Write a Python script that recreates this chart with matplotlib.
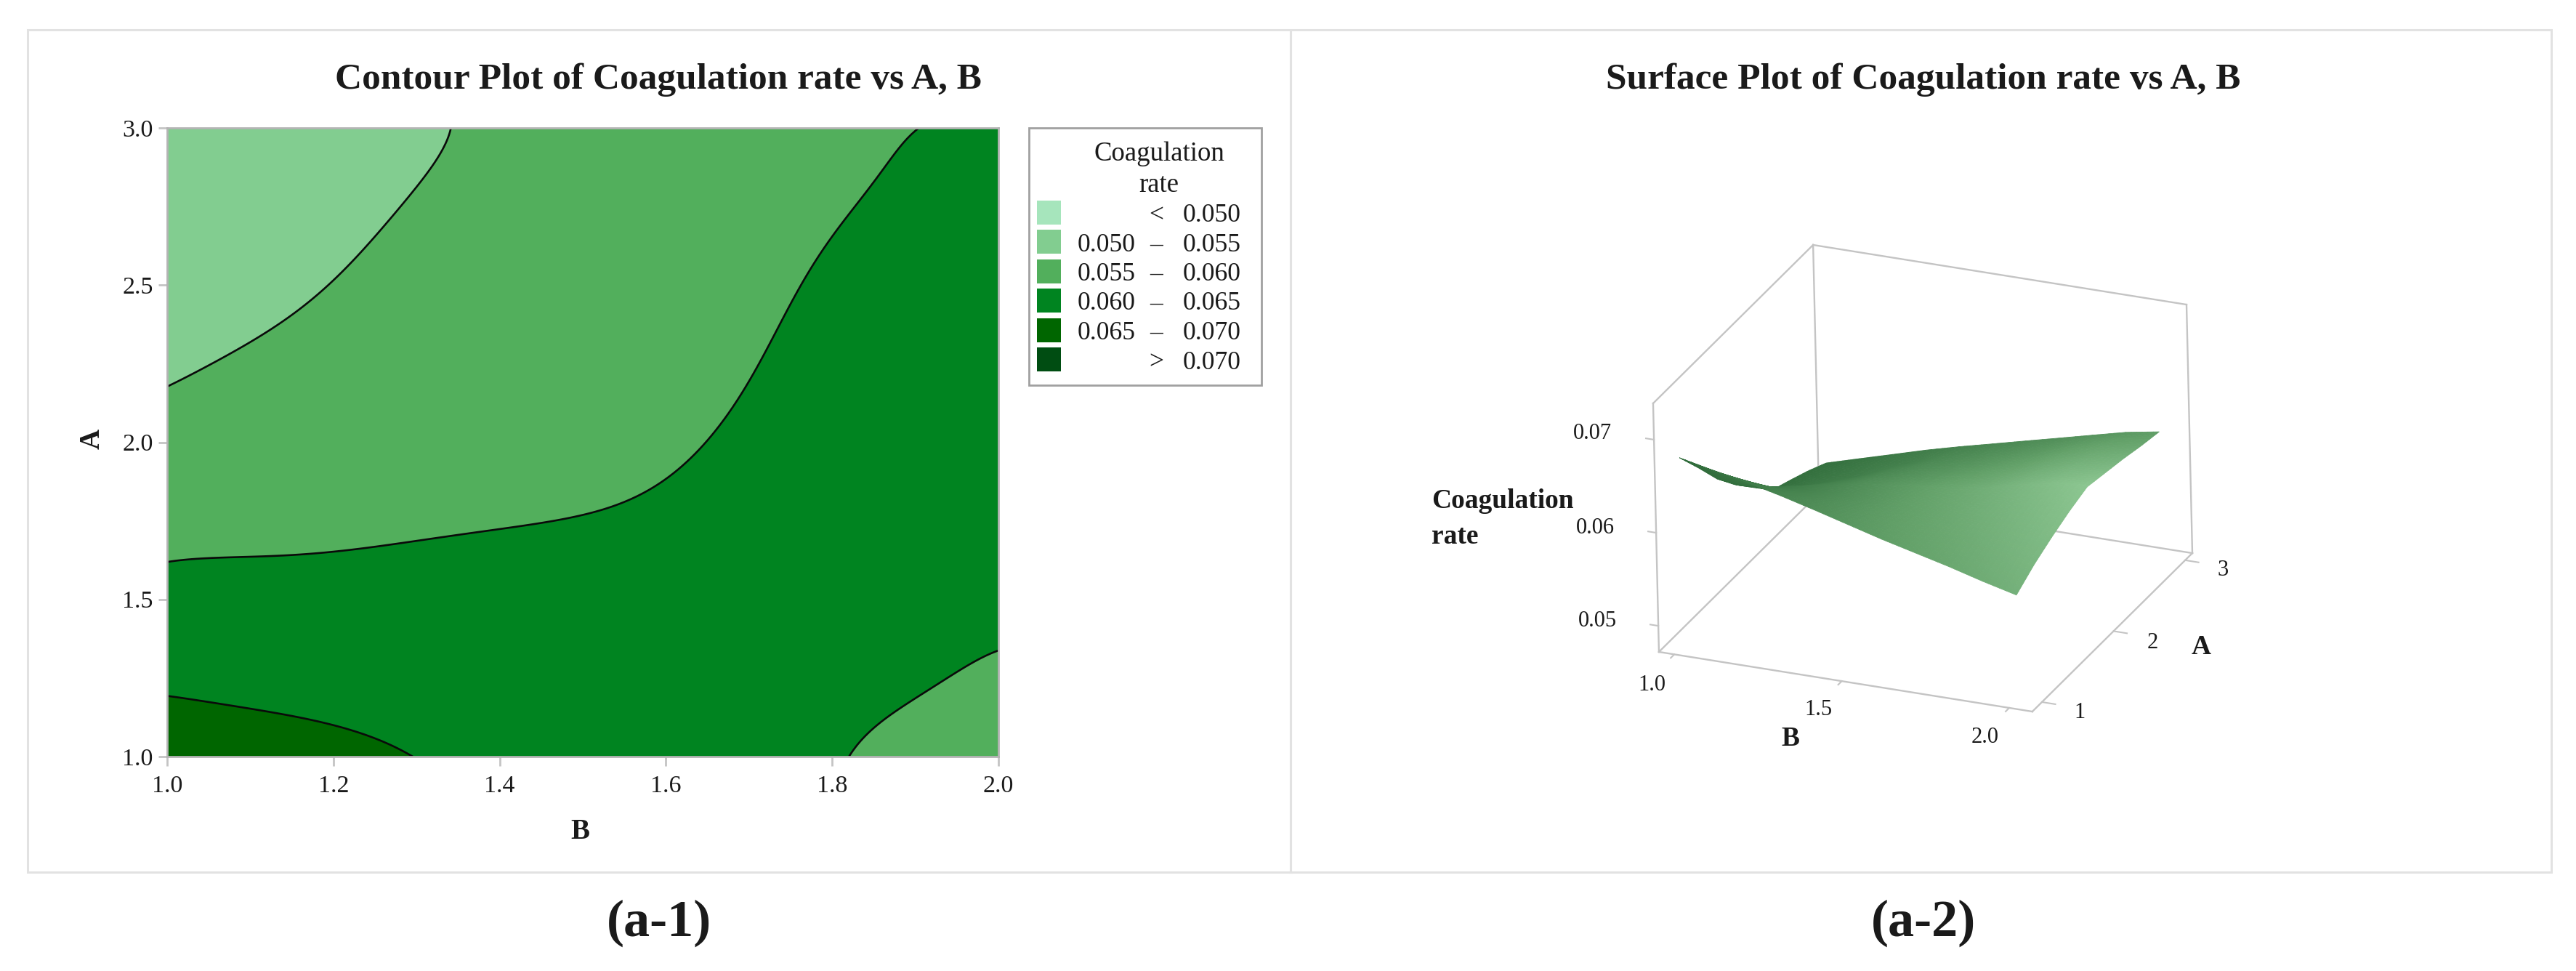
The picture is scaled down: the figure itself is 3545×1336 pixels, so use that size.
import numpy as np
import matplotlib
matplotlib.use("Agg")
import matplotlib.pyplot as plt
from matplotlib.patches import Rectangle
from matplotlib.colors import LinearSegmentedColormap
from numpy.polynomial import chebyshev as C

# ---------- data ----------
B_values = [1.0, 1.1, 1.2, 1.3, 1.4, 1.5, 1.6, 1.7, 1.8, 1.9, 2.0]
A_values = [1.0, 1.25, 1.5, 1.75, 2.0, 2.25, 2.5, 2.75, 3.0]
# rows follow A_values, columns follow B_values
rate_A100 = [.0673, .0665, .0658, .06495, .0640, .0630, .0620, .0611, .0602, .0592, .0583]
rate_A125 = [.06433, .06392, .06352, .06307, .06256, .06202, .06144, .06095, .0607, .06019, .05965]
rate_A150 = [.06124, .06122, .06123, .06119, .06112, .06104, .06088, .06085, .0611, .0610, .0607]
rate_A175 = [.05868, .05900, .05932, .0596, .05981, .06006, .06032, .0606, .0613, .0616, .0616]
rate_A200 = [.05649, .05718, .05786, .05852, .05896, .05932, .05974, .06035, .0612, .0620, .0623]
rate_A225 = [.0543, .05525, .0564, .05743, .05811, .0586, .05914, .05987, .0609, .0617, .0619]
rate_A250 = [.05345, .0543, .05497, .05635, .05725, .05788, .05853, .05931, .0604, .0612, .0615]
rate_A275 = [.05255, .05342, .05427, .0551, .0564, .05715, .05793, .05876, .05974, .0606, .0610]
rate_A300 = [.0515, .05254, .05357, .05461, .05555, .05643, .05732, .0582, .05909, .05997, .0606]

contour_levels = [0.040, 0.050, 0.055, 0.060, 0.065, 0.070, 0.080]
band_colors = ["#A6E5BC", "#82CD90", "#52AF5C", "#008420", "#006600", "#004D12"]
legend_low = ["", "0.050", "0.055", "0.060", "0.065", ""]
legend_mid = ["<", "–", "–", "–", "–", ">"]
legend_high = ["0.050", "0.055", "0.060", "0.065", "0.070", "0.070"]

contour_xticks = [1.0, 1.2, 1.4, 1.6, 1.8, 2.0]
contour_yticks = [1.0, 1.5, 2.0, 2.5, 3.0]
surface_ticks_B = [1.0, 1.5, 2.0]
surface_ticks_A = [1, 2, 3]
surface_ticks_Z = [0.05, 0.06, 0.07]

# surface tint (0 dark, 1 light) at B = 1, 1.5, 2 and A = 1, 2, 3
tint_B = [1.0, 1.5, 2.0]
tint_A = [1.0, 2.0, 3.0]
tint_A1 = [0.00, 0.42, 0.72]
tint_A2 = [0.05, 0.50, 1.00]
tint_A3 = [0.05, 0.25, 0.45]

# ---------- layout ----------
W, H = 3545, 1336
DPI = 100
SERIF = "Liberation Serif"
TXT = "#1a1a1a"
GRID = "#c4c4c4"

plt.rcParams["font.family"] = [SERIF, "DejaVu Serif"]
fig = plt.figure(figsize=(W / DPI, H / DPI), dpi=DPI, facecolor="white")


def fx(x):
    return x / W


def fy(y):
    return 1 - y / H


def put(x, y, s, size, weight="normal", ha="center", va="center", **kw):
    fig.text(fx(x), fy(y + 4), s, fontsize=size, fontweight=weight, ha=ha, va=va, color=TXT, **kw)


def pxrect(x0, y0, x1, y1, **kw):
    fig.add_artist(Rectangle((fx(x0), fy(y1)), fx(x1) - fx(x0), fy(y0) - fy(y1),
                             transform=fig.transFigure, **kw))


# panel frames
for x0, x1 in [(38, 1776), (1776, 3511)]:
    pxrect(x0, 41, x1, 1200, facecolor="none", edgecolor="#e2e2e2", linewidth=2.2)

Z = np.array([rate_A100, rate_A125, rate_A150, rate_A175, rate_A200,
              rate_A225, rate_A250, rate_A275, rate_A300])

# ---------- contour panel ----------
# a smooth least-squares sheet through the read values, so the contour lines run cleanly
Bg, Ag = np.meshgrid(B_values, A_values)
deg = (7, 6)
V = C.chebvander2d(2 * Bg.ravel() - 3, Ag.ravel() - 2, deg)
coef = np.linalg.lstsq(V, Z.ravel(), rcond=None)[0]
Bd, Ad = np.meshgrid(np.linspace(1, 2, 201), np.linspace(1, 3, 201))
Zd = (C.chebvander2d(2 * Bd.ravel() - 3, Ad.ravel() - 2, deg) @ coef).reshape(Bd.shape)

ax = fig.add_axes([fx(230), fy(1041), 1144 / W, 865 / H])
ax.contourf(Bd, Ad, Zd, levels=contour_levels, colors=band_colors)
ax.contour(Bd, Ad, Zd, levels=contour_levels[1:-1], colors="#0a0a0a", linewidths=1.9)
ax.set_xlim(1, 2)
ax.set_ylim(1, 3)
ax.set_xticks(contour_xticks, [f"{v:.1f}" for v in contour_xticks])
ax.set_yticks(contour_yticks, [f"{v:.1f}" for v in contour_yticks])
ax.tick_params(length=9, width=2, color=GRID, labelsize=24.5, labelcolor=TXT)
ax.tick_params(axis="x", pad=9)
ax.tick_params(axis="y", pad=5)
for side in ax.spines.values():
    side.set_color("#b4b4b4")
    side.set_linewidth(2)
put(798, 1140, "B", 28, "bold")
put(127, 600, "A", 28, "bold", rotation=90)
put(906, 106, "Contour Plot of Coagulation rate vs A, B", 37, "bold")

# legend
pxrect(1416, 176, 1736, 530, facecolor="white", edgecolor="#a0a0a0", linewidth=2)
put(1595, 208, "Coagulation", 26.5)
put(1595, 251, "rate", 26.5)
row_y = 292.5
for color, low, mid, high in zip(band_colors, legend_low, legend_mid, legend_high):
    pxrect(1427, row_y - 17, 1460, row_y + 16, facecolor=color, edgecolor="none")
    if low:
        put(1483, row_y, low, 25.6, ha="left")
    put(1591, row_y, mid, 25.6)
    put(1628, row_y, high, 25.6, ha="left")
    row_y += 40.5

# ---------- surface panel ----------
x_lim = (0.954, 2.069)
y_lim = (0.866, 3.10)
z_lim = (0.0472, 0.0739)

ax3 = fig.add_axes([fx(2209.7), fy(1094.3), 849.6 / W, 849.6 / H], projection="3d", computed_zorder=False)
ax3.set_proj_type("ortho")
ax3.set_box_aspect((1, 0.9976, 0.6727))
ax3.view_init(elev=24.63, azim=-66.2, roll=1.34)
ax3.set_xlim(*x_lim)
ax3.set_ylim(*y_lim)
ax3.set_zlim(*z_lim)
ax3.set_axis_off()
ax3.patch.set_alpha(0)

x0, x1 = x_lim
y0, y1 = y_lim
z0, z1 = z_lim
box_edges = [
    ((x0, x0), (y0, y1), (z1, z1)),
    ((x0, x1), (y1, y1), (z1, z1)),
    ((x0, x0), (y0, y0), (z0, z1)),
    ((x0, x0), (y1, y1), (z0, z1)),
    ((x1, x1), (y1, y1), (z0, z1)),
    ((x0, x1), (y0, y0), (z0, z0)),
    ((x1, x1), (y0, y1), (z0, z0)),
    ((x0, x1), (y1, y1), (z0, z0)),
    ((x0, x0), (y0, y1), (z0, z0)),
]
for ex, ey, ez in box_edges:
    ax3.plot(ex, ey, ez, color=GRID, lw=1.7, zorder=1, solid_capstyle="projecting")
for v in surface_ticks_Z:
    ax3.plot((x0, x0 - 0.024), (y0, y0), (v, v), color=GRID, lw=1.5, zorder=1, clip_on=False)
for v in surface_ticks_B:
    ax3.plot((v, v), (y0, y0 - 0.05), (z0, z0), color=GRID, lw=1.5, zorder=1, clip_on=False)
for v in surface_ticks_A:
    ax3.plot((x1, x1 + 0.04), (v, v), (z0, z0), color=GRID, lw=1.5, zorder=1, clip_on=False)

# finer drawing grid, so the tint runs smoothly over the sheet
nb, na = 61, 61
Bf = np.linspace(B_values[0], B_values[-1], nb)
Af = np.linspace(A_values[0], A_values[-1], na)
Zc = np.array([np.interp(Bf, B_values, row) for row in Z])
Zf = np.array([np.interp(Af, A_values, col) for col in Zc.T]).T
BB, AA = np.meshgrid(Bf, Af)

tint = np.array([tint_A1, tint_A2, tint_A3])
Tc = np.array([np.interp(Bf, tint_B, row) for row in tint])
Tf = np.array([np.interp(Af, tint_A, col) for col in Tc.T]).T
sheet = LinearSegmentedColormap.from_list("sheet", ["#2F6B3A", "#62A068", "#8DC792"])
ax3.plot_surface(BB, AA, Zf, facecolors=sheet(Tf), rstride=1, cstride=1, shade=False,
                 linewidth=0.6, antialiased=True, zorder=5)

put(2647, 106, "Surface Plot of Coagulation rate vs A, B", 37, "bold")
put(1970, 685, "Coagulation", 27, "bold", ha="left")
put(1970, 734, "rate", 27, "bold", ha="left")
for (px, py), v in zip([(2198, 851), (2195, 723), (2191, 593)], surface_ticks_Z):
    put(px, py, f"{v:.2f}", 22)
for (px, py), v in zip([(2273, 938), (2502, 973), (2732, 1010)], surface_ticks_B):
    put(px, py, f"{v:.1f}", 22)
for (px, py), v in zip([(2862, 976), (2962, 880), (3059, 780)], surface_ticks_A):
    put(px, py, f"{v}", 22)
put(2464, 1012, "B", 27, "bold")
put(3029, 887, "A", 27, "bold")

# captions
put(907, 1266, "(a-1)", 52, "bold")
put(2647, 1266, "(a-2)", 52, "bold")

fig.savefig("out.png", dpi=DPI, facecolor="white")
